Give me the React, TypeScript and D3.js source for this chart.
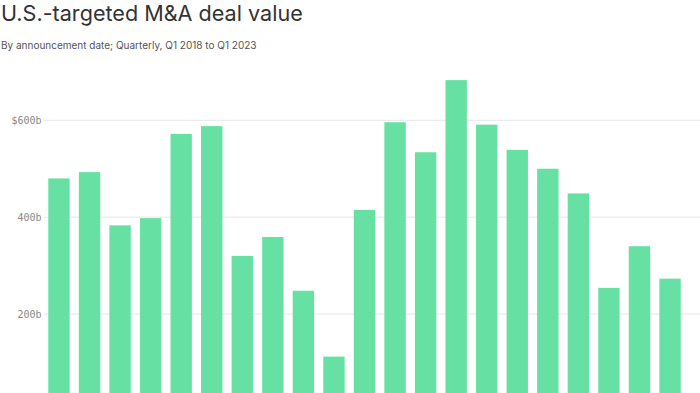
import { useEffect, useRef } from "react";
import * as d3 from "d3";

const quarters = [
  "Q1 2018", "Q2 2018", "Q3 2018", "Q4 2018",
  "Q1 2019", "Q2 2019", "Q3 2019", "Q4 2019",
  "Q1 2020", "Q2 2020", "Q3 2020", "Q4 2020",
  "Q1 2021", "Q2 2021", "Q3 2021", "Q4 2021",
  "Q1 2022", "Q2 2022", "Q3 2022", "Q4 2022",
  "Q1 2023",
];
const dealValue = [
  480, 493, 383, 398, 572, 588, 320, 359, 248, 112, 415,
  596, 534, 683, 591, 539, 500, 449, 254, 340, 273,
];
const yTicks = [200, 400, 600];
const tickLabel = (v: number) => (v === 600 ? "$600b" : `${v}b`);

export default function App() {
  const chartRef = useRef<SVGSVGElement>(null);

  useEffect(() => {
    if (!chartRef.current) return;
    const svg = d3.select(chartRef.current);
    svg.selectAll("*").remove();

    const width = 700;
    const height = 393;
    const gridLeft = 44;

    const x = d3.scaleBand()
      .domain(quarters)
      .range([gridLeft, 685])
      .paddingInner(0.3)
      .paddingOuter(0.14);

    const y = d3.scaleLinear()
      .domain([0, 600])
      .range([410.85, 120.3]);

    // Title
    svg.append("text")
      .attr("x", 1)
      .attr("y", 21)
      .attr("font-family", "Inter, sans-serif")
      .attr("font-size", 21.6)
      .attr("fill", "#333")
      .text("U.S.-targeted M&A deal value");

    svg.append("text")
      .attr("x", 1)
      .attr("y", 48.5)
      .attr("font-family", "Inter, sans-serif")
      .attr("font-size", 10)
      .attr("fill", "#555")
      .text("By announcement date; Quarterly, Q1 2018 to Q1 2023");

    // Gridlines
    svg.append("g")
      .selectAll("line")
      .data(yTicks)
      .join("line")
      .attr("x1", gridLeft)
      .attr("x2", width)
      .attr("y1", d => y(d))
      .attr("y2", d => y(d))
      .attr("stroke", "#e6e6e6")
      .attr("stroke-width", 1);

    // Tick labels
    svg.append("g")
      .selectAll("text")
      .data(yTicks)
      .join("text")
      .attr("x", 41.5)
      .attr("y", d => y(d))
      .attr("dy", "0.35em")
      .attr("text-anchor", "end")
      .attr("font-family", "'DejaVu Sans Mono', monospace")
      .attr("font-size", 10)
      .attr("fill", "#888")
      .text(d => tickLabel(d));

    // Bars
    svg.append("g")
      .attr("fill", "#66e1a3")
      .selectAll("rect")
      .data(dealValue)
      .join("rect")
      .attr("x", (_, i) => x(quarters[i]) || 0)
      .attr("y", d => y(d))
      .attr("width", x.bandwidth())
      .attr("height", d => y(0) - y(d));

    svg.attr("width", width).attr("height", height);
  }, []);

  return (
    <>
      <style>{`body{margin:0}`}</style>
      <svg ref={chartRef} style={{ display: "block" }}></svg>
    </>
  );
}
